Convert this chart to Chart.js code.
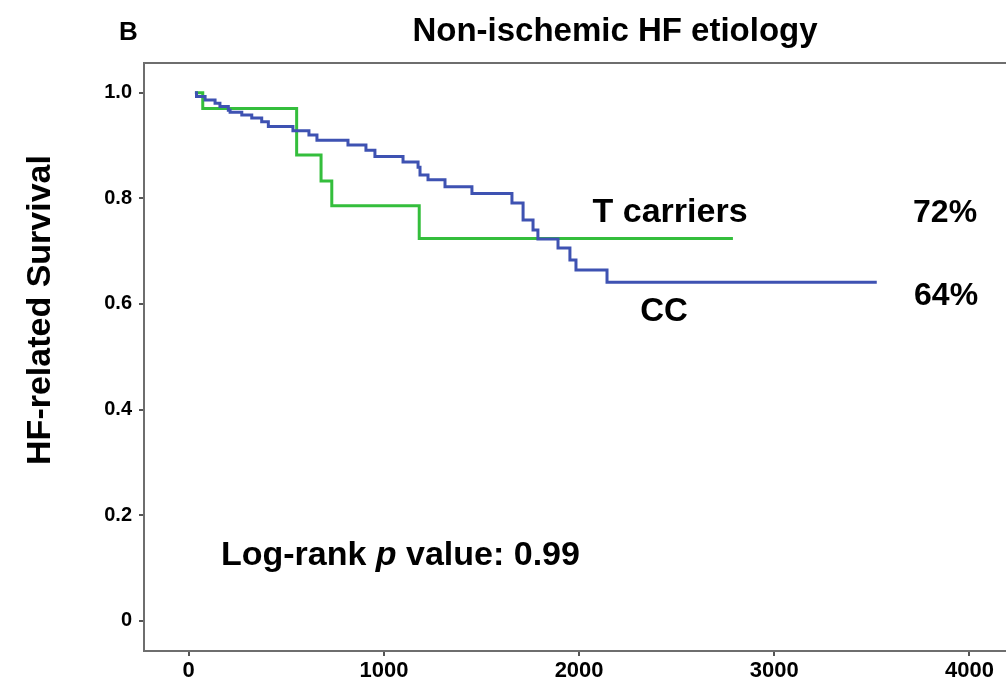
<!DOCTYPE html>
<html>
<head>
<meta charset="utf-8">
<script src="https://cdn.jsdelivr.net/npm/chart.js@4.4.1/dist/chart.umd.min.js"></script>
<style>
  html, body { margin: 0; padding: 0; background: #fff; }
  #wrap { width: 1006px; height: 691px; }
</style>
</head>
<body>
<div id="wrap"><canvas id="km"></canvas></div>
<script>
// days of follow-up at each drop and survival after it
const ccDays = [32, 40, 84, 135, 160, 203, 212, 272, 323, 374, 408, 534, 616, 657, 816, 908, 954, 1098, 1175, 1185, 1226, 1313, 1451, 1656, 1713, 1764, 1789, 1892, 1953, 1984, 2143, 3525];
const ccSurv = [1.0, 0.993, 0.986, 0.980, 0.974, 0.967, 0.963, 0.958, 0.952, 0.945, 0.936, 0.928, 0.920, 0.910, 0.901, 0.891, 0.879, 0.869, 0.859, 0.844, 0.835, 0.822, 0.809, 0.791, 0.759, 0.740, 0.723, 0.706, 0.683, 0.664, 0.641, 0.641];
const tDays = [32, 72, 553, 678, 733, 1181, 2788];
const tSurv = [1.0, 0.970, 0.882, 0.833, 0.786, 0.724, 0.724];

const xTicks = [0, 1000, 2000, 3000, 4000];
const yTicks = [0, 0.2, 0.4, 0.6, 0.8, 1.0];

const BLUE = 'rgb(62, 82, 178)';
const GREEN = 'rgb(52, 190, 60)';
const FONT = '"Liberation Sans", Arial, Helvetica, sans-serif';

function pts(days, surv) {
  return days.map((d, i) => ({x: d, y: surv[i]}));
}

function txt(ctx, s, x, y, size, align) {
  ctx.font = 'bold ' + size + 'px ' + FONT;
  ctx.textAlign = align || 'left';
  ctx.fillText(s, x, y);
}

const extras = {
  id: 'extras',
  afterDraw(chart) {
    const {ctx, chartArea: a, scales: {x, y}} = chart;
    ctx.save();
    // frame: top, left, bottom (right side runs off the picture)
    ctx.strokeStyle = '#6e6e6e';
    ctx.lineWidth = 2;
    ctx.beginPath();
    ctx.moveTo(chart.width, a.top);
    ctx.lineTo(a.left, a.top);
    ctx.lineTo(a.left, a.bottom);
    ctx.lineTo(chart.width, a.bottom);
    ctx.stroke();

    ctx.fillStyle = '#000';
    ctx.textBaseline = 'alphabetic';
    txt(ctx, 'B', 119, 40, 26, 'left');
    txt(ctx, 'Non-ischemic HF etiology', 615, 41, 33, 'center');

    // group labels
    txt(ctx, 'T carriers', x.getPixelForValue(2466), y.getPixelForValue(0.755), 34, 'center');
    txt(ctx, '72%', x.getPixelForValue(3875), y.getPixelForValue(0.755), 32, 'center');
    txt(ctx, 'CC', x.getPixelForValue(2435), y.getPixelForValue(0.568), 33, 'center');
    txt(ctx, '64%', x.getPixelForValue(3880), y.getPixelForValue(0.598), 32, 'center');

    // log-rank note with italic p
    let lx = x.getPixelForValue(165);
    const ly = y.getPixelForValue(0.105);
    ctx.textAlign = 'left';
    ctx.font = 'bold 34px ' + FONT;
    ctx.fillText('Log-rank ', lx, ly);
    lx += ctx.measureText('Log-rank ').width;
    ctx.font = 'italic bold 34px ' + FONT;
    ctx.fillText('p', lx, ly);
    lx += ctx.measureText('p').width;
    ctx.font = 'bold 34px ' + FONT;
    ctx.fillText(' value: 0.99', lx, ly);

    // y axis title
    ctx.translate(50, 310);
    ctx.rotate(-Math.PI / 2);
    txt(ctx, 'HF-related Survival', 0, 0, 34, 'center');
    ctx.restore();
  }
};

new Chart(document.getElementById('km'), {
  type: 'line',
  data: {
    datasets: [
      {label: 'CC', data: pts(ccDays, ccSurv), borderColor: BLUE, borderWidth: 3, stepped: 'before', pointRadius: 0, fill: false},
      {label: 'T carriers', data: pts(tDays, tSurv), borderColor: GREEN, borderWidth: 3, stepped: 'before', pointRadius: 0, fill: false}
    ]
  },
  options: {
    responsive: true,
    maintainAspectRatio: false,
    animation: false,
    events: [],
    layout: {padding: {top: 63, left: 0, right: 0, bottom: 0}},
    plugins: {legend: {display: false}, tooltip: {enabled: false}, title: {display: false}},
    scales: {
      x: {
        type: 'linear',
        min: -229,
        max: 4187,
        afterFit: s => { s.height = 40; },
        afterBuildTicks: s => { s.ticks = xTicks.map(v => ({value: v})); },
        border: {display: false},
        grid: {drawOnChartArea: false, drawTicks: true, tickLength: 5, color: '#555', lineWidth: 2},
        ticks: {
          color: '#000', padding: 2, maxRotation: 0,
          font: {family: FONT, size: 22, weight: 'bold'},
          callback: v => String(v)
        }
      },
      y: {
        type: 'linear',
        min: -0.0574,
        max: 1.0563,
        afterFit: s => { s.width = 144; },
        afterBuildTicks: s => { s.ticks = yTicks.map(v => ({value: v})); },
        border: {display: false},
        grid: {drawOnChartArea: false, drawTicks: true, tickLength: 5, color: '#555', lineWidth: 2},
        ticks: {
          color: '#000', padding: 7,
          font: {family: FONT, size: 20, weight: 'bold'},
          callback: v => v === 0 ? '0' : v.toFixed(1)
        }
      }
    }
  },
  plugins: [extras]
});
</script>
</body>
</html>
